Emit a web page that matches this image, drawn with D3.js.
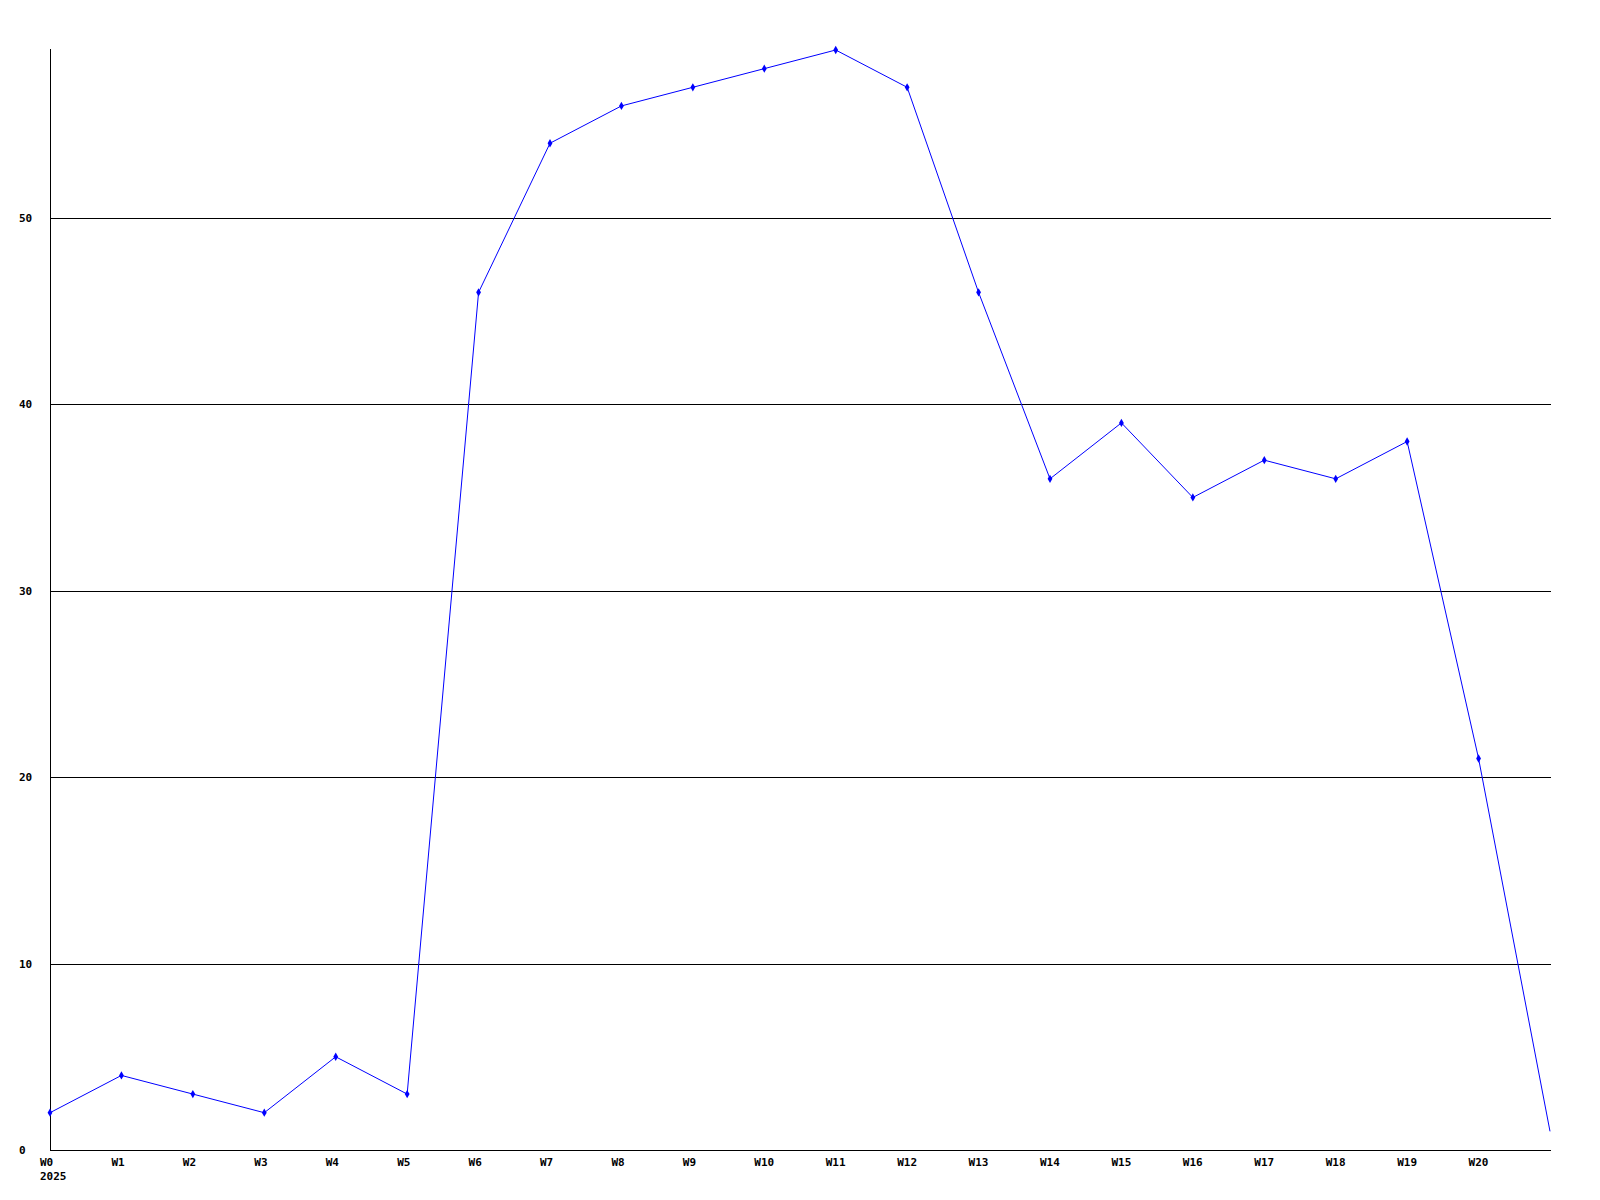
<!DOCTYPE html>
<html><head><meta charset="utf-8">
<script src="https://cdn.jsdelivr.net/npm/d3@7"></script>
<style>body{margin:0;background:#fff}</style>
</head><body>
<svg id="c" width="1600" height="1200"></svg>
<script>
const weeks = ["W0","W1","W2","W3","W4","W5","W6","W7","W8","W9","W10","W11","W12","W13","W14","W15","W16","W17","W18","W19","W20","W21"];
const values = [2,4,3,2,5,3,46,54,56,57,58,59,57,46,36,39,35,37,36,38,21,1];
const weekLabels = ["W0","W1","W2","W3","W4","W5","W6","W7","W8","W9","W10","W11","W12","W13","W14","W15","W16","W17","W18","W19","W20"];
const yTicks = [0,10,20,30,40,50];
const yearLabel = "2025";

const svg = d3.select("#c");
const x = d3.scalePoint().domain(weeks).range([50, 1550]);
const y = d3.scaleLinear().domain([0, 59]).range([1150, 50]);
const font = "'DejaVu Sans Mono', monospace";

// gridlines
svg.append("g").selectAll("line").data(yTicks.filter(d => d > 0)).join("line")
  .attr("x1", 50).attr("x2", 1551)
  .attr("y1", d => Math.round(y(d)) + 0.5).attr("y2", d => Math.round(y(d)) + 0.5)
  .attr("stroke", "#000").attr("stroke-width", 1);

// axes
svg.append("line").attr("x1", 50.5).attr("x2", 50.5).attr("y1", 49).attr("y2", 1151)
  .attr("stroke", "#000");
svg.append("line").attr("x1", 50).attr("x2", 1551).attr("y1", 1150.5).attr("y2", 1150.5)
  .attr("stroke", "#000");

// y labels
svg.append("g").selectAll("text").data(yTicks).join("text")
  .attr("x", 19).attr("y", d => y(d) + 4)
  .attr("font-family", font).attr("font-weight", "bold").attr("font-size", 11)
  .text(d => d);

// x labels
svg.append("g").selectAll("text").data(weekLabels).join("text")
  .attr("x", d => x(d) - 10).attr("y", 1166)
  .attr("font-family", font).attr("font-weight", "bold").attr("font-size", 11)
  .text(d => d);
svg.append("text").attr("x", x("W0") - 10).attr("y", 1180)
  .attr("font-family", font).attr("font-weight", "bold").attr("font-size", 11)
  .text(yearLabel);

// line
const data = weeks.map((w, i) => ({w, v: values[i]}));
svg.append("path").datum(data)
  .attr("d", d3.line().x(d => x(d.w)).y(d => y(d.v)))
  .attr("fill", "none").attr("stroke", "#0000ff").attr("stroke-width", 1);

// markers
svg.append("g").selectAll("path").data(data.slice(0, 21)).join("path")
  .attr("transform", d => `translate(${x(d.w)},${y(d.v)})`)
  .attr("d", d3.symbol(d3.symbolDiamond, 20))
  .attr("fill", "#0000ff");
</script>
</body></html>
